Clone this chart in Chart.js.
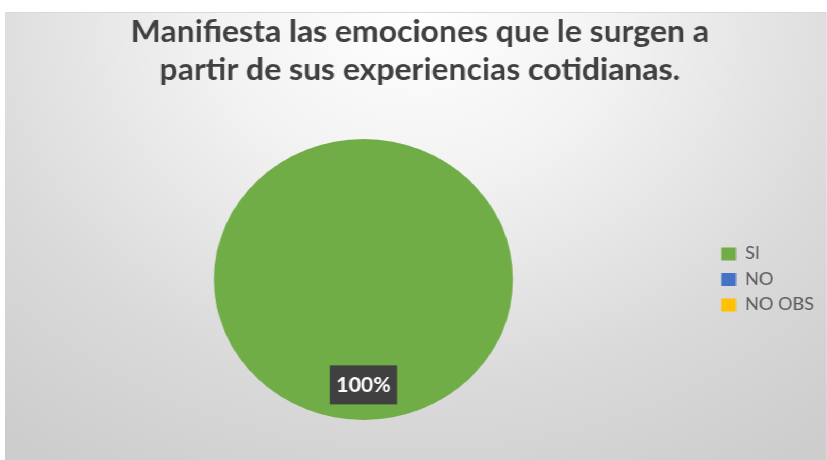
<!DOCTYPE html>
<html>
<head>
<meta charset="utf-8">
<title>Manifiesta las emociones</title>
<script src="https://cdn.jsdelivr.net/npm/chart.js@4.4.1/dist/chart.umd.min.js"></script>
<style>
  html, body { margin: 0; padding: 0; background: #ffffff; overflow: hidden; }
  body { width: 827px; height: 460px; position: relative; }
  #frame {
    position: absolute; left: 5px; top: 12px;
    width: 772px; height: 448px;
    transform: scaleX(1.0648); transform-origin: 0 0;
    background: radial-gradient(ellipse 80% 120% at 50% 0%, #ffffff 0%, #f3f3f3 30%, #dadada 70%, #cdcdcd 100%);
    border-top: 1px solid #d9d9d9;
    box-sizing: border-box;
  }
  #frame canvas { display: block; }
</style>
</head>
<body>
<div id="frame"><canvas id="chart"></canvas></div>
<script>
// Chart content
const titleLines = ['Manifiesta las emociones que le surgen a', 'partir de sus experiencias cotidianas.'];
const categories = ['SI', 'NO', 'NO OBS'];
const counts = [100, 0, 0];
const sliceColors = ['#70AD47', '#4472C4', '#FFC000'];

// Percentage labels in dark boxes, placed along each slice's middle angle
const sliceLabels = {
  id: 'sliceLabels',
  afterDatasetsDraw(chart) {
    const ctx = chart.ctx;
    const meta = chart.getDatasetMeta(0);
    const values = chart.data.datasets[0].data;
    const total = values.reduce((a, b) => a + b, 0);
    ctx.save();
    ctx.font = 'bold 20px Lato';
    ctx.textAlign = 'center';
    ctx.textBaseline = 'middle';
    meta.data.forEach((arc, i) => {
      const v = values[i];
      if (!v) return;
      const p = arc.getProps(['x', 'y', 'startAngle', 'endAngle', 'outerRadius'], true);
      const mid = (p.startAngle + p.endAngle) / 2;
      const r = p.outerRadius * 0.75;
      const x = p.x + Math.cos(mid) * r;
      const y = p.y + Math.sin(mid) * r;
      const text = Math.round(v / total * 100) + '%';
      const w = ctx.measureText(text).width + 12;
      const h = 39;
      ctx.fillStyle = '#404040';
      ctx.fillRect(x - w / 2, y - h / 2, w, h);
      ctx.fillStyle = '#ffffff';
      ctx.fillText(text, x, y + 1);
    });
    ctx.restore();
  }
};

new Chart(document.getElementById('chart'), {
  type: 'pie',
  data: {
    labels: categories,
    datasets: [{
      data: counts,
      backgroundColor: sliceColors,
      borderWidth: 0
    }]
  },
  plugins: [sliceLabels],
  options: {
    responsive: true,
    maintainAspectRatio: false,
    animation: false,
    layout: { padding: { left: 9.4, right: 2.2, top: 0, bottom: 40 } },
    plugins: {
      tooltip: { enabled: false },
      title: {
        display: true,
        text: titleLines,
        color: '#404040',
        font: { family: 'Lato', size: 30, weight: 'bold', lineHeight: 1.27 },
        padding: { top: 0, bottom: 49.8 }
      },
      legend: {
        position: 'right',
        align: 'center',
        fullSize: false,
        labels: {
          color: '#595959',
          font: { family: 'Lato', size: 17 },
          boxWidth: 14,
          boxHeight: 13,
          padding: 8.5
        }
      }
    }
  }
});
</script>
</body>
</html>
